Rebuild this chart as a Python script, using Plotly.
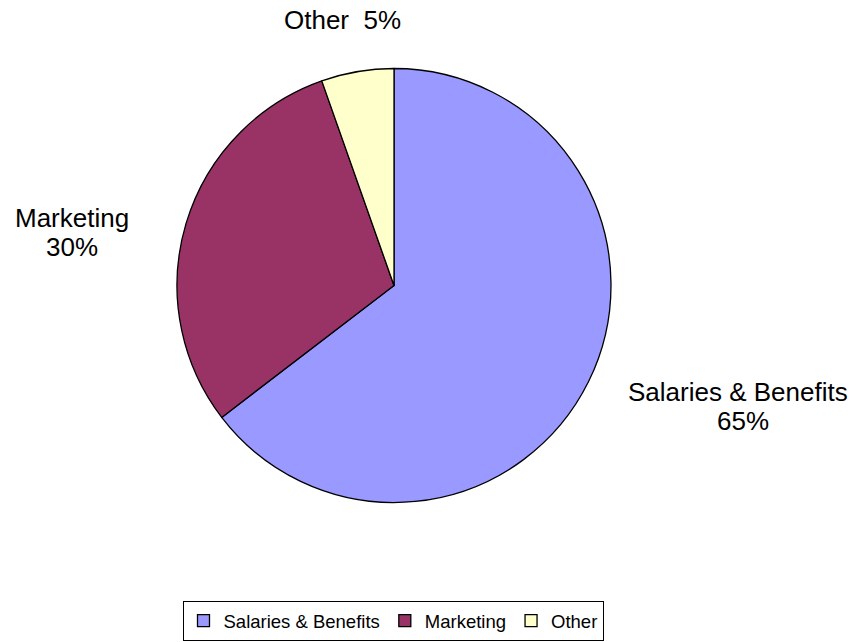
import plotly.graph_objects as go

categories = ["Salaries & Benefits", "Marketing", "Other"]
values = [64.6, 30.0, 5.4]
colors = ["#9999FF", "#993366", "#FFFFCC"]

W, H = 856, 642
total = sum(values)
pcts = [round(v / total * 100) for v in values]

fig = go.Figure()
fig.add_trace(go.Pie(
    labels=categories,
    values=values,
    sort=False,
    direction="clockwise",
    rotation=0,
    marker=dict(colors=colors, line=dict(color="#000000", width=1.3)),
    textinfo="none",
    hoverinfo="label+percent",
    domain=dict(x=[177 / W, 611 / W], y=[(H - 502.5) / H, (H - 68.5) / H]),
))

lab_font = dict(family="Liberation Sans, Arial, sans-serif", size=26, color="#000000")
ann = []
ann.append(dict(text=f"{categories[2]}\u00a0\u00a0{pcts[2]}%", x=342 / W, y=(H - 20) / H))
ann.append(dict(text=categories[1], x=71.5 / W, y=(H - 218) / H))
ann.append(dict(text=f"{pcts[1]}%", x=71.5 / W, y=(H - 246.5) / H))
ann.append(dict(text=categories[0], x=737.5 / W, y=(H - 392) / H))
ann.append(dict(text=f"{pcts[0]}%", x=743 / W, y=(H - 421) / H))
for a in ann:
    a.update(xref="paper", yref="paper", xanchor="center", yanchor="middle",
             showarrow=False, font=lab_font)

fig.update_layout(
    width=W, height=H,
    margin=dict(l=0, r=0, t=0, b=0),
    paper_bgcolor="#FFFFFF",
    plot_bgcolor="#FFFFFF",
    annotations=ann,
    showlegend=True,
    legend=dict(
        orientation="h",
        x=393 / W, xanchor="center",
        y=1 / H, yanchor="bottom",
        bordercolor="#000000", borderwidth=1,
        font=dict(family="Liberation Sans, Arial, sans-serif", size=18.5, color="#000000"),
        itemwidth=30,
        tracegroupgap=0,
    ),
)

fig.write_html("out.html")
